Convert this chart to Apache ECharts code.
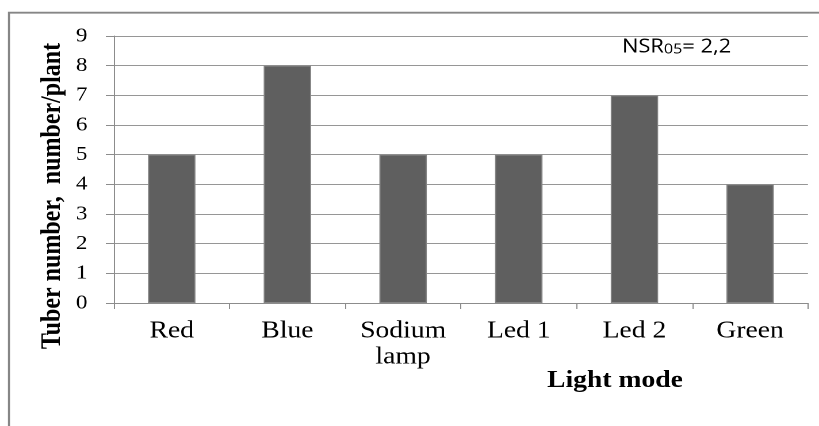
<!DOCTYPE html>
<html>
<head>
<meta charset="utf-8">
<script src="https://cdn.jsdelivr.net/npm/echarts@6/dist/echarts.min.js"></script>
<style>
html,body{margin:0;padding:0;background:#fff;}
#wrap{width:819px;height:426px;overflow:hidden;position:relative;background:#fff;}
#c{width:712px;height:426px;transform:scaleX(1.15028);transform-origin:0 0;}
</style>
</head>
<body>
<div id="wrap"><div id="c"></div></div>
<script>
// Data
var categories = ['Red', 'Blue', 'Sodium\nlamp', 'Led 1', 'Led 2', 'Green'];
var tuberNumber = [5, 8, 5, 5, 7, 4];
var yMin = 0, yMax = 9, yInterval = 1;
var yAxisTitle = 'Tuber number,  number/plant';
var xAxisTitle = 'Light mode';
var nsrParts = ['NSR', '05', '= 2,2'];

var serif = 'Liberation Serif';
var sans = 'Open Sans';
var chart = echarts.init(document.getElementById('c'), null, {renderer: 'canvas', devicePixelRatio: 2});
chart.setOption({
  animation: false,
  backgroundColor: '#fff',
  textStyle: {fontFamily: serif},
  grid: {left: 99, right: 9.6, top: 36, bottom: 123, containLabel: false},
  xAxis: {
    type: 'category',
    data: categories,
    axisLine: {lineStyle: {color: '#8c8c8c', width: 1}},
    axisTick: {show: true, length: 6, lineStyle: {color: '#8c8c8c'}},
    axisLabel: {color: '#000', fontFamily: serif, fontSize: 24, lineHeight: 26, margin: 15, interval: 0}
  },
  yAxis: {
    type: 'value',
    min: yMin, max: yMax, interval: yInterval,
    axisLine: {show: true, lineStyle: {color: '#8c8c8c', width: 1}},
    axisTick: {show: true, length: 7, lineStyle: {color: '#8c8c8c'}},
    axisLabel: {color: '#000', fontFamily: serif, fontSize: 20, margin: 23},
    splitLine: {show: true, lineStyle: {color: '#969696', width: 1}}
  },
  series: [{
    type: 'bar',
    data: tuberNumber,
    barWidth: '41%',
    itemStyle: {color: '#5f5f5f', borderColor: '#858585', borderWidth: 1}
  }],
  graphic: [
    {type: 'rect', shape: {x: 7.8, y: 12.7, width: 900, height: 600},
     style: {fill: 'none', stroke: '#868686', lineWidth: 1.8}, silent: true, z: -10},
    {type: 'text', x: 46, y: 196, rotation: Math.PI / 2,
     style: {text: yAxisTitle, fontFamily: serif, fontWeight: 'bold', fontSize: 24, fill: '#000', align: 'center', verticalAlign: 'middle'}},
    {type: 'text', x: 534.6, y: 381,
     style: {text: xAxisTitle, fontFamily: serif, fontWeight: 'bold', fontSize: 24, fill: '#000', align: 'center', verticalAlign: 'middle'}},
    {type: 'text', x: 540.7, y: 47,
     style: {
       text: '{a|' + nsrParts[0] + '}{b|' + nsrParts[1] + '}{a|' + nsrParts[2] + '}',
       align: 'left', verticalAlign: 'middle',
       rich: {
         a: {fontFamily: sans, fontSize: 19, fill: '#000', verticalAlign: 'bottom'},
         b: {fontFamily: sans, fontSize: 14, fill: '#000', verticalAlign: 'bottom'}
       }
     }}
  ]
});
</script>
</body>
</html>
